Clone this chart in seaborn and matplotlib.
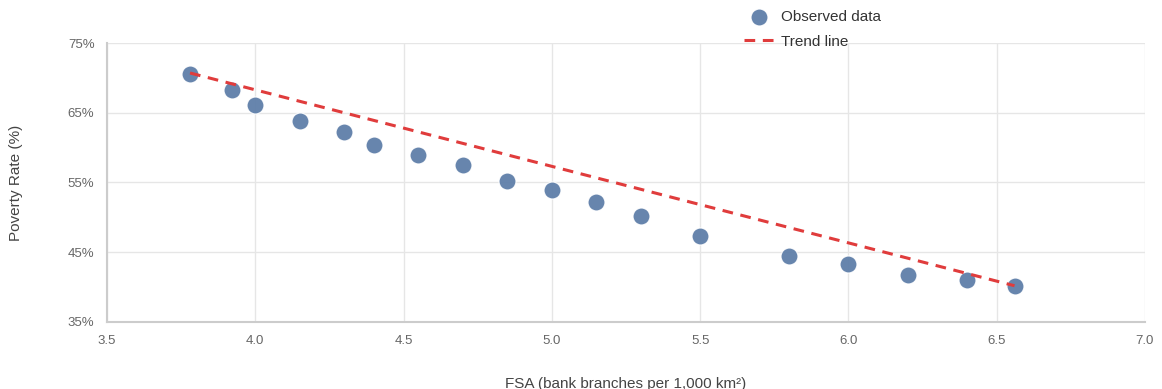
import pandas as pd
import matplotlib.pyplot as plt
import seaborn as sns

# Datos
fsa = [3.78, 3.92, 4.00, 4.15, 4.30, 4.40, 4.55, 4.70, 4.85, 5.00,
       5.15, 5.30, 5.50, 5.80, 6.00, 6.20, 6.40, 6.56]
poverty = [70.5, 68.3, 66.1, 63.8, 62.3, 60.4, 58.9, 57.5, 55.2, 53.9,
           52.2, 50.2, 47.3, 44.5, 43.3, 41.7, 41.0, 40.2]
trend_x = [3.78, 6.56]
trend_y = [70.7, 40.2]

df = pd.DataFrame({"fsa": fsa, "poverty": poverty})
trend = pd.DataFrame({"x": trend_x, "y": trend_y})

sns.set_style("white")
plt.rcParams['font.family'] = ['Liberation Sans', 'DejaVu Sans']

fig = plt.figure(figsize=(11.62, 3.89), dpi=100)
ax = fig.add_axes([107/1162, 1 - 322/389, (1145-107)/1162, (322-43)/389])

sns.scatterplot(data=df, x="fsa", y="poverty", ax=ax, s=150, color="#5f7fa9",
                edgecolor="white", linewidth=0.8, alpha=0.95, label="Observed data", zorder=3)
sns.lineplot(data=trend, x="x", y="y", ax=ax, color="#e03c3c", linestyle=(0, (3.5, 2.5)),
             linewidth=2.2, label="Trend line", zorder=4)

ax.set_xlim(3.5, 7.0)
ax.set_ylim(35, 75)
ax.set_xticks([3.5, 4.0, 4.5, 5.0, 5.5, 6.0, 6.5, 7.0])
ax.set_xticklabels(["3.5", "4.0", "4.5", "5.0", "5.5", "6.0", "6.5", "7.0"])
ax.set_yticks([35, 45, 55, 65, 75])
ax.set_yticklabels(["35%", "45%", "55%", "65%", "75%"])
ax.tick_params(axis="both", labelsize=9.5, colors="#666666", length=0, pad=9)
ax.grid(True, color="#e6e6e6", linewidth=1)
for s in ["top", "right"]:
    ax.spines[s].set_visible(False)
for s in ["left", "bottom"]:
    ax.spines[s].set_color("#cccccc")
    ax.spines[s].set_linewidth(1.5)

ax.set_xlabel("FSA (bank branches per 1,000 km²)", fontsize=11, color="#444444", labelpad=22)
ax.set_ylabel("Poverty Rate (%)", fontsize=11, color="#444444", labelpad=32)

ax.legend(loc="upper left", bbox_to_anchor=(0.608, 1 + 39/279),
          frameon=False, fontsize=11, labelcolor="#333333", handlelength=2.0,
          handletextpad=0.4, labelspacing=0.7, borderaxespad=0)

plt.savefig("out.png", dpi=100)
plt.close()
